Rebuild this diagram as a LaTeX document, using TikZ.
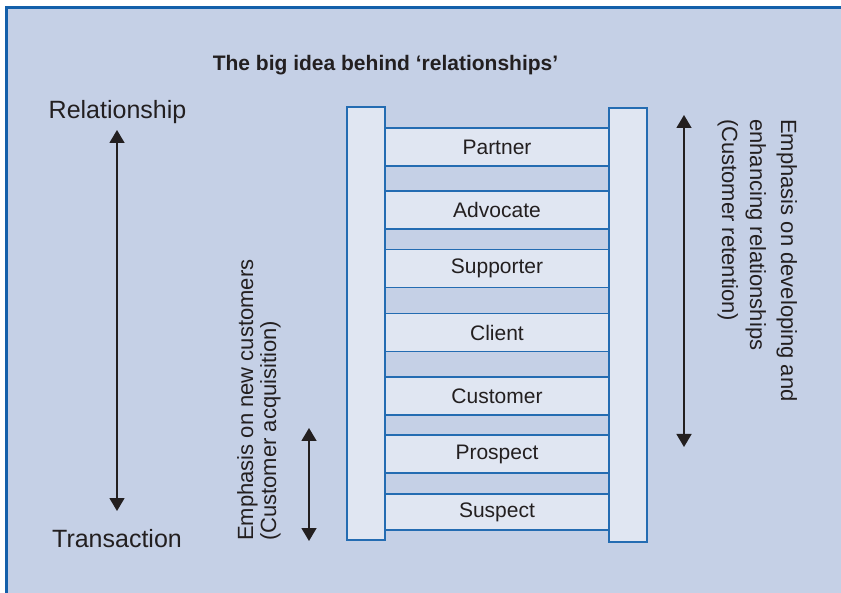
\documentclass[tikz,border=0pt]{standalone}
\usepackage{fontspec}
\setmainfont{Liberation Sans}
\usetikzlibrary{arrows.meta}
\definecolor{panelbg}{RGB}{197,208,230}
\definecolor{rungfill}{RGB}{224,230,242}
\definecolor{ladderblue}{RGB}{36,108,178}
\definecolor{frameblue}{RGB}{20,96,170}
\definecolor{inkgrey}{RGB}{35,31,32}

\begin{document}
\begin{tikzpicture}[x=1pt, y=-1pt,
    rail/.style={draw=ladderblue, line width=1.4pt, fill=rungfill, minimum width=38pt, inner sep=0pt},
    rung/.style={draw=ladderblue, line width=1.4pt, fill=rungfill, minimum width=224pt, minimum height=38pt, inner sep=0pt, text=inkgrey, font=\fontsize{21}{25}\selectfont},
    side/.style={anchor=base, inner sep=0pt, text=inkgrey, font=\fontsize{25}{30}\selectfont},
    note/.style={anchor=base west, inner sep=0pt, text=inkgrey, font=\fontsize{22}{26}\selectfont},
    arr/.style={{Triangle[width=15pt,length=13pt]}-{Triangle[width=15pt,length=13pt]}, line width=1.5pt, draw=inkgrey}
  ]
    \useasboundingbox (0,0) rectangle (841,593);
    \fill[panelbg] (6,7) rectangle (841,593);
    \draw[frameblue, line width=2.6pt] (6.3,593) -- (6.3,7.3) -- (841,7.3);

    \node[anchor=base, inner sep=0pt, text=inkgrey, font=\bfseries\fontsize{21}{25}\selectfont] (title) at (385.5,71) {The big idea behind ‘relationships’};

    % ladder
    \node[rail, minimum height=433pt] (lrail) at (366,323.5) {};
    \node[rail, minimum height=434pt] (rrail) at (628,325) {};
    \node[rung] (partner) at (497,147) {Partner};
    \node[rung] (advocate) at (497,210) {Advocate};
    \node[rung] (supporter) at (497,268.5) {Supporter};
    \node[rung] (client) at (497,332.5) {Client};
    \node[rung] (customer) at (497,396) {Customer};
    \node[rung] (prospect) at (497,454) {Prospect};
    \node[rung, minimum height=36pt] (suspect) at (497,512) {Suspect};

    % left scale
    \node[side] (rel) at (117.5,119) {Relationship};
    \node[side] (trans) at (117,547) {Transaction};
    \coordinate (relup) at (117,130);
    \coordinate (reldown) at (117,511);
    \draw[arr] (relup) -- (reldown);

    % acquisition
    \node[note, rotate=90] (newcust) at (253,541) {Emphasis on new customers};
    \node[note, rotate=90] (acquis) at (276,541) {(Customer acquisition)};
    \coordinate (acqup) at (309,428);
    \coordinate (acqdown) at (309,541);
    \draw[arr] (acqup) -- (acqdown);

    % retention
    \node[note, rotate=-90] (develop) at (781,119) {Emphasis on developing and};
    \node[note, rotate=-90] (enhance) at (750,119) {enhancing relationships};
    \node[note, rotate=-90] (retain) at (722,119) {(Customer retention)};
    \coordinate (retup) at (684,115);
    \coordinate (retdown) at (684,447);
    \draw[arr] (retup) -- (retdown);
  \end{tikzpicture}
\end{document}
